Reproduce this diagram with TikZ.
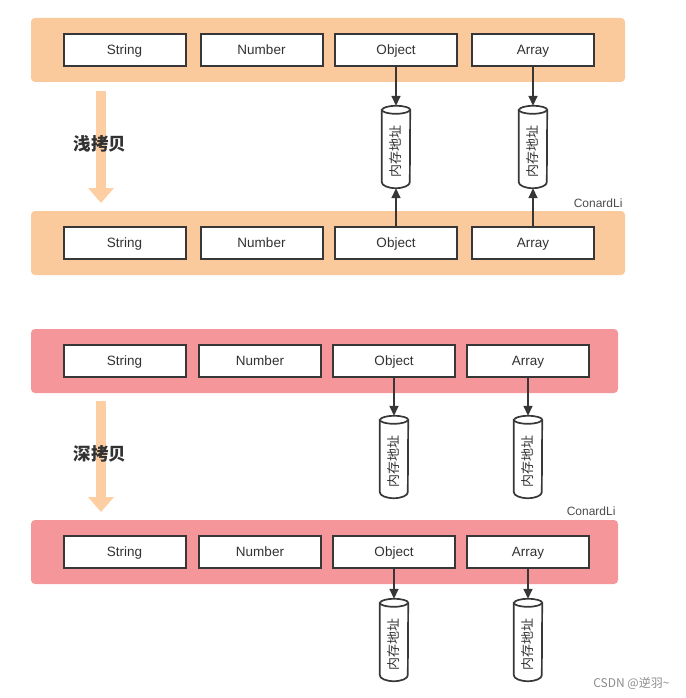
\documentclass[tikz,border=0pt]{standalone}
\usepackage{fontspec}
\setmainfont{Liberation Sans}
\newfontfamily\cjk{Noto Sans CJK SC}
\usetikzlibrary{arrows.meta}
\definecolor{bandorange}{RGB}{250,201,156}
\definecolor{bandpink}{RGB}{245,150,155}
\definecolor{arroworange}{RGB}{252,206,162}
\definecolor{boxline}{RGB}{55,55,55}
\definecolor{txt}{RGB}{50,50,50}
\newcommand\cylshape[1]{%
  \draw[cylline] (#1.north west) -- (#1.south west)
    arc[start angle=180,end angle=360,x radius=14pt,y radius=6pt]
    -- (#1.north east)
    arc[start angle=0,end angle=180,x radius=14pt,y radius=4pt] -- cycle;
  \draw[cylline] (#1.north west) arc[start angle=180,end angle=360,x radius=14pt,y radius=4pt];}
\tikzset{
  band/.style={rounded corners=4pt, inner sep=0pt, minimum height=64pt},
  typebox/.style={draw=boxline, line width=2pt, fill=white, minimum width=122pt, minimum height=32pt, inner sep=0pt, text height=9.7pt, text depth=0pt, font=\fontsize{13.5}{15}\selectfont, text=txt},
  cylbody/.style={minimum width=28pt, minimum height=72pt, inner sep=0pt, font=\cjk\fontsize{13}{14}\selectfont, text=txt},
  cylline/.style={draw=boxline, line width=1.7pt, fill=white},
  arr/.style={draw=boxline, line width=1.6pt, -{Triangle[length=10pt,width=9pt]}},
  copyarr/.style={draw=arroworange, line width=10.5pt, -{Triangle[length=15pt,width=25pt]}},
  title/.style={font=\cjk\bfseries\fontsize{17.5}{19}\selectfont, text=txt},
  author/.style={font=\fontsize{12}{14}\selectfont, text=black!70, anchor=east},
}
\begin{document}
\begin{tikzpicture}[x=1pt,y=-1pt]
\useasboundingbox (0,0) rectangle (685,698);
% ---------- shallow copy ----------
\node[band, fill=bandorange, minimum width=594pt] (b1) at (328,50) {};
\node[band, fill=bandorange, minimum width=594pt] (b2) at (328,243) {};
\node[typebox] (s1) at (124.5,50) {String};
\node[typebox] (n1) at (261.5,50) {Number};
\node[typebox] (o1) at (396,50) {Object};
\node[typebox] (a1) at (533,50) {Array};
\node[typebox] (s2) at (124.5,243) {String};
\node[typebox] (n2) at (261.5,243) {Number};
\node[typebox] (o2) at (396,243) {Object};
\node[typebox] (a2) at (533,243) {Array};
\node[cylbody] (oc1) at (396,146) {};
\node[cylbody] (ac1) at (533,146) {};
\cylshape{oc1}\cylshape{ac1}
\node[cylbody] at (oc1) {\rotatebox{90}{内存地址\hspace*{10pt}}};
\node[cylbody] at (ac1) {\rotatebox{90}{内存地址\hspace*{10pt}}};
\draw[arr] (o1.south) -- ([yshift=4pt]oc1.north);
\draw[arr] (a1.south) -- ([yshift=4pt]ac1.north);
\draw[arr] (o2.north) -- ([yshift=-6pt]oc1.south);
\draw[arr] (a2.north) -- ([yshift=-6pt]ac1.south);
\coordinate (sa1) at (101,91);
\coordinate (sa2) at (101,203);
\draw[copyarr] (sa1) -- (sa2);
\node[title] (t1) at (100,144) {浅拷贝};
\node[author] (c1) at (626,203) {ConardLi};
% ---------- deep copy ----------
\node[band, fill=bandpink, minimum width=587pt] (b3) at (324.5,361) {};
\node[band, fill=bandpink, minimum width=587pt] (b4) at (324.5,552) {};
\node[typebox] (s3) at (124.5,361) {String};
\node[typebox] (n3) at (260,361) {Number};
\node[typebox] (o3) at (394,361) {Object};
\node[typebox] (a3) at (528,361) {Array};
\node[typebox] (s4) at (124.5,552) {String};
\node[typebox] (n4) at (260,552) {Number};
\node[typebox] (o4) at (394,552) {Object};
\node[typebox] (a4) at (528,552) {Array};
\node[cylbody] (oc3) at (394,456) {};
\node[cylbody] (ac3) at (528,456) {};
\node[cylbody] (oc4) at (394,639) {};
\node[cylbody] (ac4) at (528,639) {};
\cylshape{oc3}\cylshape{ac3}\cylshape{oc4}\cylshape{ac4}
\node[cylbody] at (oc3) {\rotatebox{90}{内存地址\hspace*{10pt}}};
\node[cylbody] at (ac3) {\rotatebox{90}{内存地址\hspace*{10pt}}};
\node[cylbody] at (oc4) {\rotatebox{90}{内存地址\hspace*{10pt}}};
\node[cylbody] at (ac4) {\rotatebox{90}{内存地址\hspace*{10pt}}};
\draw[arr] (o3.south) -- ([yshift=4pt]oc3.north);
\draw[arr] (a3.south) -- ([yshift=4pt]ac3.north);
\draw[arr] (o4.south) -- ([yshift=4pt]oc4.north);
\draw[arr] (a4.south) -- ([yshift=4pt]ac4.north);
\coordinate (da1) at (101,401);
\coordinate (da2) at (101,512);
\draw[copyarr] (da1) -- (da2);
\node[title] (t2) at (100,454) {深拷贝};
\node[author] (c2) at (619,511) {ConardLi};
\node[font=\cjk\fontsize{12}{14}\selectfont, text=black!45, anchor=east] (wm) at (673,683) {CSDN @逆羽\textasciitilde};
\end{tikzpicture}
\end{document}
